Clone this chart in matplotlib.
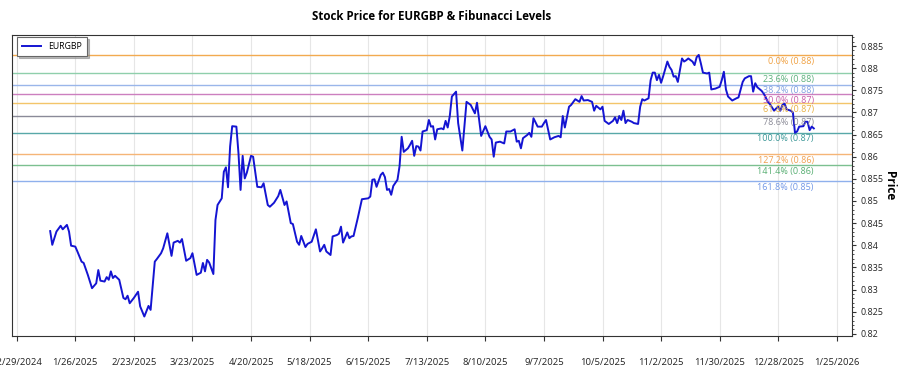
import matplotlib
matplotlib.use('Agg')
import matplotlib.pyplot as plt
import matplotlib.ticker as mticker
import pandas as pd

plt.rcParams['font.family'] = ['Open Sans', 'Noto Sans', 'DejaVu Sans']

symbol = 'EURGBP'
title = 'Stock Price for EURGBP & Fibunacci Levels'
start = pd.Timestamp('2024-12-29')

# days since 2024-12-29
days = [16, 17, 19, 21, 22, 24, 25, 26, 28, 29, 31, 32, 34, 36, 38, 39, 40, 42, 43, 44,
        45, 46, 47, 49, 51, 52, 53, 54, 56, 58, 59, 61, 63, 64, 66, 67, 69, 70, 72, 74,
        75, 77, 78, 79, 81, 83, 84, 86, 88,
        89, 90, 91, 92, 94, 95, 96, 98, 99, 100, 101, 102, 103, 105, 106, 107, 108, 109, 110, 112,
        113, 115, 117, 118, 120, 121, 123, 125, 126, 128, 129, 131, 132, 134, 135, 136, 138, 139, 141, 143,
        145, 146, 147, 148, 150, 151, 153, 154, 155, 156, 158, 159,
        160, 161, 163, 165, 168, 169, 170, 171, 172, 174, 175, 176, 177, 178, 179, 180, 182, 183, 184, 185,
        187, 188, 189, 190, 191, 192, 193, 194, 196, 197, 198, 199, 200, 201, 203, 204, 205, 206, 207, 208,
        210, 211, 213, 215, 217, 219, 220, 222, 224, 226, 227, 228, 229, 231, 233, 234, 236, 238, 239, 240,
        241, 242, 244, 245, 246, 247, 249, 251, 252, 253, 255, 257, 259,
        260, 261, 262, 264, 265, 267, 269, 270, 271, 273, 275, 276, 277, 279, 280, 281, 283, 285, 286, 287,
        288, 289, 290, 291, 292, 294, 295, 297, 298, 299, 300, 302, 303, 304, 305, 306, 307, 308, 309, 311,
        312, 313, 314, 315, 316, 318, 319, 320, 321, 323, 324, 325, 326, 327, 328, 330, 331, 332, 334, 336,
        337, 338, 339, 340, 342, 344, 345, 347, 348, 350, 351, 352, 353, 354, 356, 357, 358, 359, 360, 362,
        363, 364, 365, 366, 367, 368, 370, 371, 372, 373, 374, 376, 377, 378, 379, 380, 381]

price = [.8432, .8401, .8431, .8444, .8436, .8446, .8431, .8399, .8397, .8386,
         .8363, .8360, .8333, .8303, .8314, .8344, .8320, .8318, .8328, .8322,
         .8341, .8326, .8331, .8322, .8281, .8278, .8286, .8269, .8281, .8295,
         .8262, .8239, .8263, .8254, .8363, .8369, .8382, .8393, .8427, .8376,
         .8406, .8410, .8406, .8414, .8365, .8371, .8382, .8333, .8338,
         .8360, .8341, .8367, .8361, .8335, .8457, .8491, .8506, .8566, .8576,
         .8531, .8623, .8669, .8668, .8608, .8525, .8602, .8551, .8564, .8602,
         .8600, .8532, .8531, .8540, .8491, .8487, .8496, .8511, .8525, .8491,
         .8499, .8450, .8448, .8408, .8401, .8421, .8396, .8403, .8408, .8436,
         .8386, .8393, .8401, .8386, .8378, .8420, .8423, .8426, .8442, .8406,
         .8429, .8416,
         .8420, .8421, .8461, .8504, .8506, .8510, .8548, .8549, .8532, .8559,
         .8564, .8554, .8525, .8527, .8514, .8534, .8548, .8579, .8645, .8611,
         .8619, .8627, .8636, .8602, .8624, .8623, .8614, .8657, .8660, .8683,
         .8668, .8669, .8639, .8662, .8664, .8662, .8681, .8666, .8692, .8736,
         .8747, .8676, .8614, .8724, .8717, .8698, .8722, .8647, .8669, .8645,
         .8639, .8600, .8632, .8634, .8630, .8657, .8657, .8662, .8634, .8636,
         .8619, .8642, .8649, .8654, .8645, .8687, .8668, .8668, .8676, .8683,
         .8639, .8644, .8647,
         .8644, .8692, .8666, .8713, .8717, .8730, .8724, .8737, .8727, .8728,
         .8724, .8704, .8715, .8707, .8713, .8681, .8674, .8681, .8689, .8676,
         .8692, .8683, .8704, .8676, .8683, .8679, .8676, .8674, .8713, .8730,
         .8727, .8732, .8773, .8790, .8790, .8773, .8785, .8767, .8782, .8815,
         .8803, .8796, .8781, .8782, .8769, .8822, .8815, .8818, .8822, .8815,
         .8807, .8825, .8830, .8811, .8790, .8788, .8790, .8752, .8754, .8758,
         .8773, .8792, .8752, .8736, .8727, .8732, .8734, .8769, .8777, .8782,
         .8782, .8747, .8766, .8757, .8749, .8743, .8734, .8724, .8719, .8704,
         .8709, .8713, .8704, .8717, .8720, .8707, .8704, .8700, .8654, .8657,
         .8668, .8669, .8679, .8679, .8660, .8668, .8664]

fib_ratios = [0.0, 0.236, 0.382, 0.5, 0.618, 0.786, 1.0, 1.272, 1.414, 1.618]
fib_line_colors = ['#f2aa50', '#8fcfab', '#9ab6ea', '#cc7fbf', '#f3c56a',
                   '#8a8a98', '#58a8a8', '#f5b577', '#7cc090', '#8fb0ec']
fib_text_colors = ['#f0a040', '#5cb07c', '#7f9fe0', '#c85aa8', '#e8b040',
                   '#8a8a96', '#3a9696', '#f0a050', '#55ad70', '#7096e6']

tick_dates = pd.date_range('2024-12-29', periods=15, freq='28D')
y_limits = (0.8195, 0.8875)

dates = start + pd.to_timedelta(days, unit='D')
series = pd.Series(price, index=dates)
high = series.max()
low = series[series.idxmax():].min()
span = high - low

fig = plt.figure(figsize=(9, 3.75), dpi=100)
ax = fig.add_axes([12 / 900, 39 / 375, 840 / 900, 301 / 375])

ax.grid(axis='x', color='#e6e6e6', lw=0.8, zorder=0)
ax.plot(dates, price, color='#1414d2', lw=1.4, label=symbol, zorder=3)

for r, lc, tc in zip(fib_ratios, fib_line_colors, fib_text_colors):
    lvl = high - r * span
    ax.axhline(lvl, color=lc, lw=1.0, zorder=2)
    ax.annotate(f'{r * 100:.1f}% ({lvl:.2f})', xy=(dates[-1], lvl), xytext=(0, -1.2),
                textcoords='offset points', ha='right', va='top', color=tc,
                fontsize=6.5, zorder=4)

ax.set_ylim(*y_limits)
ax.set_xticks(tick_dates)
ax.xaxis.set_major_formatter(mticker.FuncFormatter(
    lambda v, p: (lambda d: f'{d.month}/{d.day}/{d.year}')(pd.Timestamp(matplotlib.dates.num2date(v)))))
ax.yaxis.tick_right()
ax.yaxis.set_label_position('right')
ax.yaxis.set_major_locator(mticker.MultipleLocator(0.005))
ax.yaxis.set_minor_locator(mticker.MultipleLocator(0.001))
ax.yaxis.set_major_formatter(mticker.FuncFormatter(lambda v, p: f'{v:.3f}'.rstrip('0')))

ax.tick_params(axis='x', direction='out', length=3.5, width=0.8, pad=12, labelsize=6.8,
               color='#333333', labelcolor='#222222')
ax.tick_params(axis='y', which='major', direction='out', length=3, width=0.8, pad=3,
               labelsize=6.4, color='#333333', labelcolor='#222222')
ax.tick_params(axis='y', which='minor', direction='out', length=1.5, width=0.6, color='#333333')

for sp in ax.spines.values():
    sp.set_color('#333333')
    sp.set_linewidth(0.8)

ax.set_title(title, fontsize=8.3, fontweight='bold', pad=11)
ax.set_ylabel('Price', fontsize=8.5, fontweight='bold', rotation=270, labelpad=9)

leg = ax.legend(loc='upper left', bbox_to_anchor=(4.7 / 840, 1 - 1.7 / 301), borderaxespad=0,
                fontsize=6.3, frameon=True, fancybox=False,
                shadow={'color': '0.55', 'alpha': 0.6, 'ox': 1.5, 'oy': -1.5},
                edgecolor='#666666', handlelength=2.2, borderpad=0.6)
leg.get_frame().set_linewidth(0.8)

fig.savefig('out.png', dpi=100)
